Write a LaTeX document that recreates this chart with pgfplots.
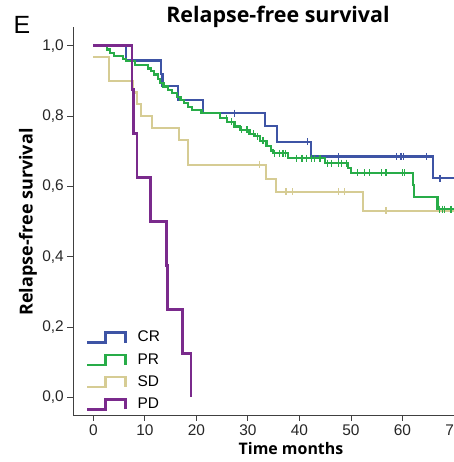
\documentclass[border=0pt]{standalone}
\usepackage{fontspec}
\setmainfont{Liberation Sans}
\newfontfamily\osans{Open Sans}
\usepackage{pgfplots}
\pgfplotsset{compat=1.18}
\definecolor{crblue}{RGB}{62,84,165}
\definecolor{prgreen}{RGB}{40,172,72}
\definecolor{sdtan}{RGB}{214,204,148}
\definecolor{pdpurple}{RGB}{122,42,140}
\begin{document}
\begin{tikzpicture}[x=1bp,y=1bp]
\begin{axis}[
  at={(73.3bp,47bp)}, anchor=south west,
  scale only axis, width=380.7bp, height=388bp,
  xmin=-3.9, xmax=70, ymin=-0.05, ymax=1.053,
  axis lines=left,
  axis line style={-, line width=0.9bp, black!75},
  xtick={0,10,...,70}, ytick={0,0.2,0.4,0.6,0.8,1.0},
  tick align=outside, major tick length=6bp,
  tick style={line width=0.9bp, black!75},
  ticklabel style={font=\fontsize{15.5}{18}\selectfont, text=black!85},
  /pgf/number format/assume math mode=true,
  yticklabel style={/pgf/number format/.cd, fixed, fixed zerofill, precision=1, use comma},
  xticklabel style={/pgf/number format/.cd, fixed, precision=0},
  legend cell align=left,
  legend style={at={(axis description cs:0.026,0.224)}, anchor=north west,
    draw=none, fill=none, font=\fontsize{15.5}{18}\selectfont,
    nodes={inner sep=0bp, text height=11.5bp, text depth=3bp},
    row sep=7.8bp,
    /tikz/every even column/.append style={column sep=0bp}},
]
\addlegendimage{legend image code/.code={\draw[crblue,line width=2.2bp] (0bp,-5bp) -- (18bp,-5bp) -- (18bp,5bp) -- (38bp,5bp) -- (38bp,-5bp);\path (50bp,0bp);}}
\addlegendentry{CR}
\addlegendimage{legend image code/.code={\draw[prgreen,line width=2.2bp] (0bp,-5bp) -- (18bp,-5bp) -- (18bp,5bp) -- (38bp,5bp) -- (38bp,-5bp);\draw[prgreen,line width=2.8bp] (38bp,-5bp) -- (38bp,4bp);\path (50bp,0bp);}}
\addlegendentry{PR}
\addlegendimage{legend image code/.code={\draw[sdtan,line width=2.2bp] (0bp,-5bp) -- (18bp,-5bp) -- (18bp,5bp) -- (38bp,5bp) -- (38bp,-5bp);\path (50bp,0bp);}}
\addlegendentry{SD}
\addlegendimage{legend image code/.code={\draw[pdpurple,line width=2.2bp] (0bp,-5bp) -- (18bp,-5bp) -- (18bp,5bp) -- (38bp,5bp) -- (38bp,-5bp);\draw[pdpurple,line width=2.8bp] (38bp,-5bp) -- (38bp,4bp);\path (50bp,0bp);}}
\addlegendentry{PD}

% SD
\addplot[sdtan, line width=2.2bp, const plot, forget plot] coordinates {
(0,0.967) (3.0,0.900) (7.7,0.867) (8.4,0.833) (9.3,0.800) (11.4,0.765)
(16.6,0.732) (18.3,0.661) (33.5,0.620) (35.4,0.585) (52.3,0.530) (70,0.530)};
\addplot[sdtan, only marks, mark=|, mark size=3.5bp, mark options={line width=1.3bp}, forget plot] coordinates {
(32.3,0.661) (37.4,0.585) (38.7,0.585) (47.6,0.585) (48.7,0.585) (56.8,0.530)};

% CR
\addplot[crblue, line width=2.2bp, const plot, forget plot] coordinates {
(0,1.0) (6.4,0.958) (13.1,0.920) (13.4,0.885) (16.4,0.846) (21.3,0.808)
(33.3,0.772) (35.7,0.727) (42.2,0.685) (65.9,0.623) (70,0.623)};
\addplot[crblue, only marks, mark=|, mark size=3.5bp, mark options={line width=1.3bp}, forget plot] coordinates {
(27.4,0.808) (41.5,0.727) (47.6,0.685) (58.8,0.685) (59.7,0.685) (60.2,0.685) (64.6,0.685) (67.3,0.623)};

% PR
\addplot[prgreen, line width=2.2bp, const plot, forget plot] coordinates {
(0,1.0) (2.7,0.989) (3.2,0.980) (4.0,0.970) (5.8,0.963) (6.4,0.957) (8.0,0.946)
(10.6,0.935) (11.2,0.927) (11.8,0.918) (12.6,0.905) (13.0,0.894) (13.6,0.884)
(14.5,0.874) (15.3,0.865) (16.2,0.855) (16.9,0.846) (17.6,0.837) (18.4,0.825)
(19.2,0.818) (21.0,0.808) (24.5,0.794) (26.0,0.784) (27.4,0.770) (28.4,0.761)
(30.3,0.749) (31.3,0.742) (32.3,0.730) (33.6,0.715) (34.4,0.702) (34.8,0.694)
(37.8,0.680) (44.9,0.666) (49.4,0.652) (50.0,0.638) (62.0,0.604) (62.3,0.569)
(66.8,0.535) (70,0.535)};
\addplot[prgreen, only marks, mark=|, mark size=3.5bp, mark options={line width=1.3bp}, forget plot] coordinates {
(25.8,0.794) (26.8,0.784) (28.7,0.761) (29.8,0.761) (31.1,0.749) (31.9,0.742) (32.9,0.730)
(35.2,0.694) (36.1,0.694) (36.8,0.694) (37.3,0.694)
(39.4,0.680) (40.5,0.680) (41.4,0.680) (42.3,0.680) (42.9,0.680) (44.0,0.680)
(45.5,0.666) (46.2,0.666) (47.6,0.666) (48.1,0.666) (49.1,0.666)
(51.3,0.638) (52.6,0.638) (53.6,0.638) (55.9,0.638) (56.8,0.638) (60.0,0.638) (60.4,0.638)
(62.2,0.590) (67.2,0.535) (67.7,0.535) (68.1,0.535) (69.4,0.535)};

% PD
\addplot[pdpurple, line width=2.3bp, const plot, forget plot] coordinates {
(0,1.0) (7.5,0.875) (7.8,0.750) (8.5,0.625) (11.1,0.500) (14.2,0.375)
(14.4,0.250) (17.3,0.125) (18.9,0.0)};
\end{axis}
\node[font=\fontsize{25}{30}\selectfont] at (22,437) {E};
\node[font=\osans\bfseries\fontsize{21.5}{26}\selectfont] at (278,445) {Relapse-free survival};
\node[rotate=90, font=\osans\bfseries\fontsize{18}{21}\selectfont] at (28,240) {Relapse-free survival};
\node[font=\osans\bfseries\fontsize{16}{19}\selectfont] at (291,13) {Time months};
\pgfresetboundingbox
\useasboundingbox (0,0) rectangle (454,462);
\end{tikzpicture}
\end{document}
